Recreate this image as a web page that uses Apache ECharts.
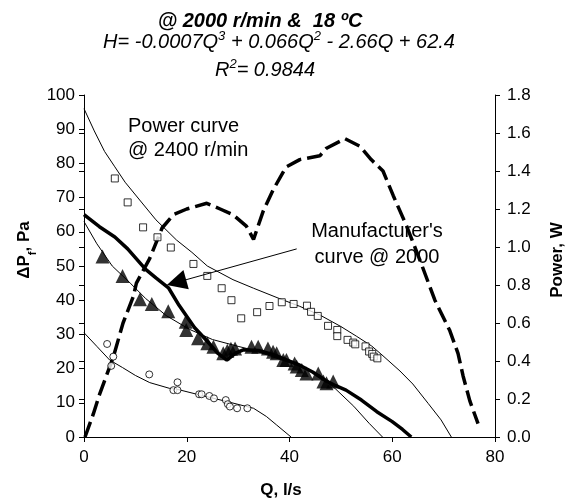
<!DOCTYPE html>
<html>
<head>
<meta charset="utf-8">
<script src="https://cdn.jsdelivr.net/npm/echarts@6/dist/echarts.min.js"></script>
<style>
html,body{margin:0;padding:0;background:#fff;}
#chart{width:566px;height:502px;}
</style>
</head>
<body>
<div id="chart"></div>
<script>
// Tick labels
const xTicks = [0, 20, 40, 60, 80];
const leftTicks = [0, 10, 20, 30, 40, 50, 60, 70, 80, 90, 100];
const rightTicks = ['0.0','0.2','0.4','0.6','0.8','1.0','1.2','1.4','1.6','1.8'];

// 2400 r/min measured (squares)
const sqQ = [6,8.5,11.5,14.3,16.9,21.3,24,26.8,28.7,30.6,33.7,36.1,38.5,40.8,43.4,44.2,45.5,47.5,49.3,49.3,51.3,52.4,52.8,54.8,55.5,56.1,56.4,57.1];
const sqP = [75.6,68.6,61.3,58.4,55.4,50.6,47.1,43.5,40,34.7,36.5,38.3,39.4,38.9,38.4,36.6,35.4,32.5,31.3,29.5,28.4,27.6,27.1,26.5,25,24.3,23.5,23];

// 2400 r/min fitted curve (thin)
const fit2400Q = [0,2,4,6,8,11,14,18,21,24,29,33,38,42,46,50,53,56,58,61.5,64,67,69.5,71.5];
const fit2400P = [96,89.5,83.5,79,74.5,69,63.5,57.6,54,50,46,43.5,40.5,38.2,35.6,32.3,29.5,26.6,24,19.3,15.5,9.8,5,0];

// 2000 r/min measured (triangles)
const triQ = [3.6,7.5,10.9,13.2,16.4,19.8,19.9,22.2,24,25.2,27.1,27.9,28.6,29.4,32.6,33.9,35.8,36.8,37.5,38.8,39.4,41,41.4,42.4,43.3,45.6,46.6,47.2,48.5];
const triP = [52.8,47.1,40.3,38.9,36.8,33.7,31.3,28.9,27.4,26.4,24.5,25.2,25.8,25.9,26.4,26.4,25.9,24.9,24.5,22.5,22.5,21.5,20.6,19.6,18.6,18.6,16.2,15.7,16.2];

// 2000 r/min fitted curve (thin)
const fit2000Q = [0,2.5,5.5,9,12,16,20.5,25,30,33,39.5,43,46,49,52.5,55.5,58.1];
const fit2000P = [63,56.5,50,45,40.5,35.5,31.5,28.5,26.5,25.4,22,20.3,18,14,9,4,0];

// Manufacturer's curve @ 2000 (thick)
const manQ = [0,3,6,8.5,12,14,16.5,18.5,21.5,24,26,27.8,29.5,31,34,37,39.5,42,44.5,47,49,51,54,57,60,62,63.7];
const manP = [65,61.5,58.5,55,49,46.5,43.5,38.5,32,28,24.5,22.5,24.5,25.5,25.3,24,22.5,21,19,16.5,15,13.7,10.8,7.4,4.5,2.2,0];

// Low speed measured (circles)
const cirQ = [4.5,5.7,5.3,12.7,18.2,17.4,18.2,22.4,22.9,24.4,25.3,27.6,28,28.4,29.8,31.8];
const cirP = [27.2,23.5,20.8,18.3,16,13.7,13.7,12.5,12.5,12,11.3,10.8,9.6,8.9,8.4,8.4];

// Low speed fitted curve (thin)
const fitLowQ = [0,2.5,5,7.5,10,12.8,16.7,18,22.5,28,33,35.5,37.5,40.3];
const fitLowP = [30.5,26.5,22.5,20.3,18,15.9,14.2,14,12.3,10.3,8.4,6,3.5,0];

// Power curve @ 2400 r/min (right axis, W)
const powQ = [0.2,1.8,3.1,5.7,7.6,9.6,10.2,12.8,15.2,17.4,20,23.9,26.5,29,31.6,33,34.9,36.8,39.3,42,45.9,47.2,50.8,53.7,55.9,58.2,60.2,62.8,65.4,68.3,71.2,72.8,73.8,75.1,76.7];
const powW = [0,0.12,0.23,0.42,0.6,0.74,0.81,0.94,1.1,1.17,1.2,1.23,1.2,1.17,1.11,1.04,1.19,1.3,1.42,1.46,1.48,1.52,1.57,1.53,1.46,1.4,1.27,1.11,0.93,0.72,0.56,0.44,0.32,0.19,0.07];

// Annotation arrow (data coords): from label to arrow head
const arrowFrom = [41.4, 55];
const arrowTo = [18.0, 45.2];

const zip = (a, b) => a.map((v, i) => [v, b[i]]);
const FONT = '"Liberation Sans", Arial, sans-serif';
const black = '#000';

const chart = echarts.init(document.getElementById('chart'), null, {renderer: 'canvas'});

const axisLabelStyle = {color: black, fontFamily: FONT, fontSize: 17};

const option = {
  backgroundColor: '#fff',
  animation: false,
  grid: {left: 84, right: 71, top: 95, bottom: 65, containLabel: false},
  xAxis: {
    type: 'value', min: xTicks[0], max: xTicks[xTicks.length - 1], interval: 20,
    axisLine: {show: true, onZero: false, lineStyle: {color: black, width: 1}},
    axisTick: {show: true, inside: false, length: 5, lineStyle: {color: black}},
    axisLabel: Object.assign({margin: 12}, axisLabelStyle),
    splitLine: {show: false}
  },
  yAxis: [
    {
      type: 'value', position: 'left', min: leftTicks[0], max: leftTicks[leftTicks.length - 1], interval: 10,
      axisLine: {show: true, onZero: false, lineStyle: {color: black, width: 1}},
      axisTick: {show: true, inside: false, length: 5, lineStyle: {color: black}},
      axisLabel: Object.assign({margin: 9}, axisLabelStyle),
      splitLine: {show: false}
    },
    {
      type: 'value', position: 'right', min: 0, max: 1.8, interval: 0.2,
      axisLine: {show: true, onZero: false, lineStyle: {color: black, width: 1}},
      axisTick: {show: true, inside: false, length: 5, lineStyle: {color: black}},
      axisLabel: Object.assign({margin: 12, formatter: (v) => rightTicks[Math.round(v / 0.2)]}, axisLabelStyle),
      splitLine: {show: false}
    },
    {
      type: 'value', position: 'right', min: 0, max: 1.8, interval: 0.2,
      axisLine: {show: false},
      axisTick: {show: true, inside: true, length: 5, lineStyle: {color: black}},
      axisLabel: {show: false},
      splitLine: {show: false}
    }
  ],
  graphic: [
    {type: 'text', x: 260, y: 21, style: {text: '@ 2000 r/min &  18 ºC', font: 'italic bold 20px ' + FONT, fill: black, textAlign: 'center', textVerticalAlign: 'middle'}},
    {type: 'text', x: 279, y: 41, style: {
      text: '{n|H= -0.0007Q}{s|3}{n| + 0.066Q}{s|2}{n| - 2.66Q + 62.4}',
      textAlign: 'center', textVerticalAlign: 'middle',
      rich: {
        n: {font: 'italic 20px ' + FONT, fill: black, lineHeight: 22, verticalAlign: 'bottom'},
        s: {font: 'italic 13px ' + FONT, fill: black, lineHeight: 22, verticalAlign: 'top'}
      }
    }},
    {type: 'text', x: 265, y: 69, style: {
      text: '{n|R}{s|2}{n|= 0.9844}',
      textAlign: 'center', textVerticalAlign: 'middle',
      rich: {
        n: {font: 'italic 20px ' + FONT, fill: black, lineHeight: 22, verticalAlign: 'bottom'},
        s: {font: 'italic 13px ' + FONT, fill: black, lineHeight: 22, verticalAlign: 'top'}
      }
    }},
    {type: 'text', x: 128, y: 114, style: {text: 'Power curve\n@ 2400 r/min', font: '20px ' + FONT, fill: black, lineHeight: 24, textAlign: 'left', textVerticalAlign: 'top'}},
    {type: 'text', x: 377, y: 218, style: {text: "Manufacturer's\ncurve @ 2000", font: '20px ' + FONT, fill: black, lineHeight: 26, textAlign: 'center', textVerticalAlign: 'top'}},
    {type: 'text', x: 281, y: 490, style: {text: 'Q, l/s', font: 'bold 17px ' + FONT, fill: black, textAlign: 'center', textVerticalAlign: 'middle'}},
    {type: 'text', x: 27, y: 250, rotation: Math.PI / 2, style: {
      text: '{n|ΔP}{s|f}{n|, Pa}',
      textAlign: 'center', textVerticalAlign: 'middle',
      rich: {
        n: {font: 'bold 17px ' + FONT, fill: black, lineHeight: 22, verticalAlign: 'top'},
        s: {font: 'bold 11px ' + FONT, fill: black, lineHeight: 22, verticalAlign: 'bottom'}
      }
    }},
    {type: 'text', x: 557, y: 260, rotation: Math.PI / 2, style: {text: 'Power, W', font: 'bold 17px ' + FONT, fill: black, textAlign: 'center', textVerticalAlign: 'middle'}}
  ],
  series: [
    {
      name: 'fit2400', type: 'line', data: zip(fit2400Q, fit2400P), showSymbol: false, symbol: 'none',
      lineStyle: {color: black, width: 1}, z: 3,
      markLine: {
        silent: true, symbol: ['none', 'triangle'], symbolSize: 20,
        label: {show: false},
        lineStyle: {color: black, width: 1, type: 'solid'},
        itemStyle: {color: black},
        data: [[{coord: arrowFrom}, {coord: arrowTo}]]
      }
    },
    {
      name: 'sq2400', type: 'scatter', data: zip(sqQ, sqP), symbol: 'rect', symbolSize: 7,
      itemStyle: {color: '#fff', borderColor: black, borderWidth: 1}, z: 4
    },
    {
      name: 'fit2000', type: 'line', data: zip(fit2000Q, fit2000P), showSymbol: false, symbol: 'none',
      lineStyle: {color: black, width: 1}, z: 3
    },
    {
      name: 'man2000', type: 'line', data: zip(manQ, manP), showSymbol: false, symbol: 'none',
      lineStyle: {color: black, width: 3.5}, z: 3
    },
    {
      name: 'tri2000', type: 'scatter', data: zip(triQ, triP), symbol: 'triangle', symbolSize: 14,
      itemStyle: {color: black}, z: 4
    },
    {
      name: 'fitLow', type: 'line', data: zip(fitLowQ, fitLowP), showSymbol: false, symbol: 'none',
      lineStyle: {color: black, width: 1}, z: 3
    },
    {
      name: 'cirLow', type: 'scatter', data: zip(cirQ, cirP), symbol: 'circle', symbolSize: 7,
      itemStyle: {color: '#fff', borderColor: black, borderWidth: 1}, z: 4
    },
    {
      name: 'power2400', type: 'line', yAxisIndex: 1, data: zip(powQ, powW), showSymbol: false, symbol: 'none',
      lineStyle: {color: black, width: 3.5, type: [16, 6]}, z: 3
    }
  ]
};
chart.setOption(option);
</script>
</body>
</html>
